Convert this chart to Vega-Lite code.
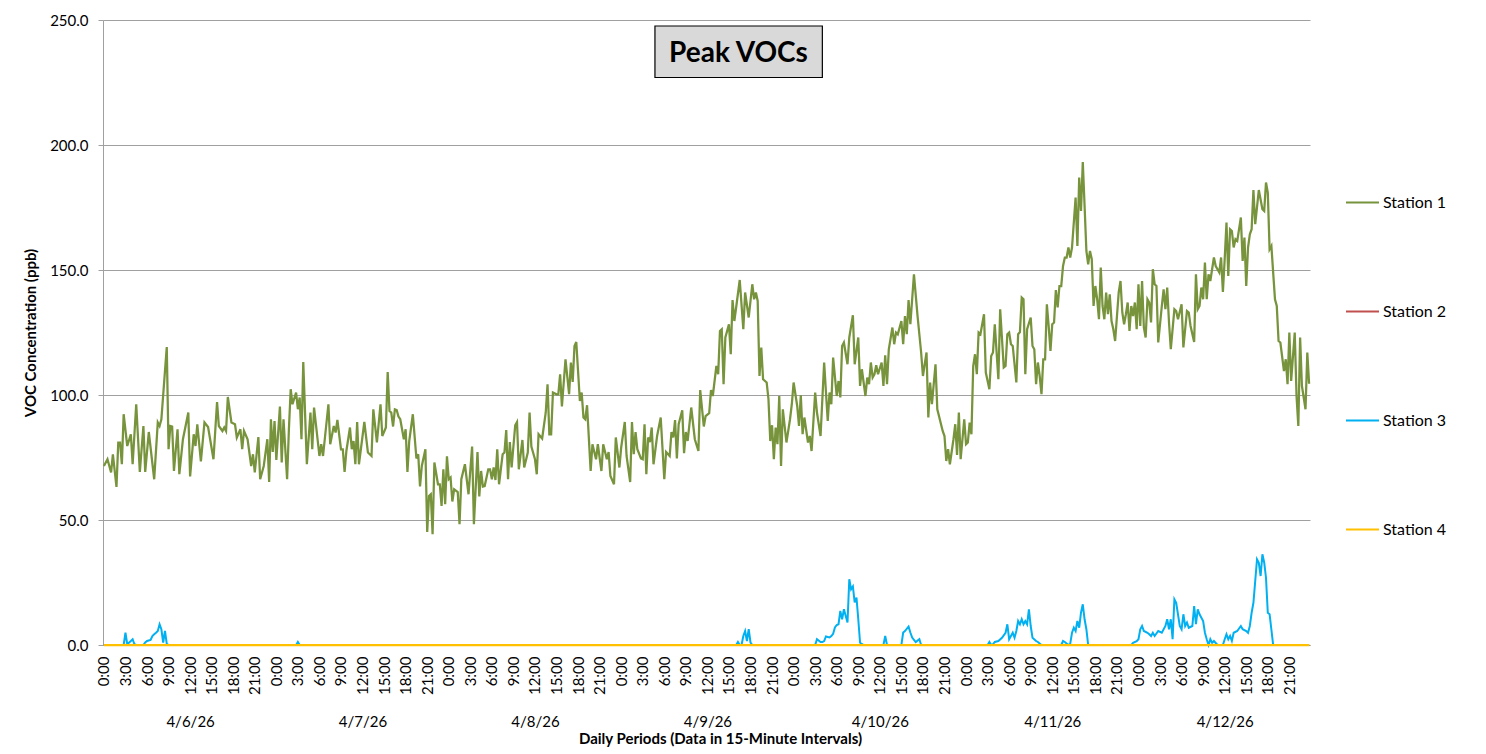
{
"$schema":"https://vega.github.io/schema/vega-lite/v6.json",
"width":1207,"height":625,
"autosize":{"type":"none"},
"padding":{"left":103,"top":20,"right":176,"bottom":109},
"background":"white",
"title":{"text":"Peak VOCs","font":"Lato","fontSize":28,"fontWeight":"bold","color":"#000000","anchor":"middle","frame":"group","baseline":"middle","offset":-69,"dx":32},
"config":{"font":"Lato","view":{"stroke":null}},
"datasets":{
"station1":[{"h":0,"ppb":71.6},{"h":0.5,"ppb":74.3},{"h":1,"ppb":69},{"h":1.25,"ppb":76.3},{"h":1.75,"ppb":63.2},{"h":2,"ppb":81},{"h":2.25,"ppb":81},{"h":2.5,"ppb":72.3},{"h":2.75,"ppb":92.3},{"h":3.25,"ppb":79.6},{"h":3.75,"ppb":84.3},{"h":4,"ppb":72.3},{"h":4.5,"ppb":96.3},{"h":5,"ppb":69.2},{"h":5.5,"ppb":87.6},{"h":5.75,"ppb":69.2},{"h":6.25,"ppb":85.2},{"h":7,"ppb":66.3},{"h":7.5,"ppb":89},{"h":7.75,"ppb":87.6},{"h":8,"ppb":90.3},{"h":8.75,"ppb":119.2},{"h":9,"ppb":78.3},{"h":9.25,"ppb":87.6},{"h":9.5,"ppb":87.4},{"h":9.75,"ppb":69.6},{"h":10.25,"ppb":86.3},{"h":10.5,"ppb":68.3},{"h":11,"ppb":82.3},{"h":11.75,"ppb":93},{"h":12,"ppb":67.4},{"h":12.5,"ppb":84.3},{"h":12.75,"ppb":79.6},{"h":13,"ppb":88.3},{"h":13.5,"ppb":73.4},{"h":14,"ppb":89},{"h":14.5,"ppb":87.2},{"h":15.25,"ppb":74.3},{"h":15.75,"ppb":97.2},{"h":16,"ppb":87.6},{"h":16.5,"ppb":85.6},{"h":16.75,"ppb":87},{"h":17,"ppb":85.6},{"h":17.25,"ppb":99.2},{"h":17.75,"ppb":89},{"h":18.25,"ppb":88.3},{"h":18.5,"ppb":83},{"h":19,"ppb":86.3},{"h":19.25,"ppb":78.3},{"h":19.5,"ppb":85.6},{"h":20,"ppb":82.3},{"h":20.5,"ppb":71.6},{"h":20.75,"ppb":76.3},{"h":21,"ppb":69},{"h":21.5,"ppb":83.2},{"h":21.75,"ppb":66.3},{"h":22.25,"ppb":71.6},{"h":22.75,"ppb":82.3},{"h":23,"ppb":65.2},{"h":23.25,"ppb":90.3},{"h":23.5,"ppb":77.2},{"h":23.75,"ppb":89.6},
{"h":24,"ppb":74},{"h":24.5,"ppb":95.4},{"h":24.75,"ppb":73},{"h":25,"ppb":90.3},{"h":25.5,"ppb":66.3},{"h":25.75,"ppb":86.3},{"h":26,"ppb":102.3},{"h":26.25,"ppb":96.3},{"h":26.75,"ppb":101},{"h":27,"ppb":94.3},{"h":27.25,"ppb":99},{"h":27.5,"ppb":82.3},{"h":27.75,"ppb":113.2},{"h":28.25,"ppb":72.3},{"h":28.75,"ppb":93},{"h":29,"ppb":78.3},{"h":29.25,"ppb":95},{"h":30,"ppb":75.6},{"h":30.25,"ppb":80.3},{"h":30.5,"ppb":75.6},{"h":31.25,"ppb":96.3},{"h":31.5,"ppb":80.3},{"h":32,"ppb":87.6},{"h":32.25,"ppb":85},{"h":32.5,"ppb":90},{"h":33,"ppb":78.3},{"h":33.25,"ppb":78.3},{"h":33.5,"ppb":69.2},{"h":33.75,"ppb":77.6},{"h":34.25,"ppb":87},{"h":34.5,"ppb":78.3},{"h":34.75,"ppb":81.6},{"h":35,"ppb":72.3},{"h":35.25,"ppb":89.2},{"h":35.5,"ppb":72.3},{"h":36.25,"ppb":89.2},{"h":36.75,"ppb":77},{"h":37.25,"ppb":75.6},{"h":37.5,"ppb":94.3},{"h":38,"ppb":81},{"h":38.5,"ppb":96.3},{"h":38.75,"ppb":83.6},{"h":39.25,"ppb":87},{"h":39.5,"ppb":109.2},{"h":39.75,"ppb":93.6},{"h":40,"ppb":93},{"h":40.25,"ppb":87.4},{"h":40.5,"ppb":94.3},{"h":40.75,"ppb":94},{"h":41,"ppb":91.4},{"h":41.25,"ppb":90.3},{"h":41.75,"ppb":82.3},{"h":42,"ppb":86.3},{"h":42.25,"ppb":69.2},{"h":42.5,"ppb":81.6},{"h":43,"ppb":92.3},{"h":43.5,"ppb":74.6},{"h":43.75,"ppb":76.3},{"h":44,"ppb":63.4},{"h":44.25,"ppb":71.6},{"h":44.75,"ppb":78.3},{"h":45,"ppb":45.2},{"h":45.25,"ppb":59.6},{"h":45.5,"ppb":60.3},{"h":45.75,"ppb":44.3},{"h":46,"ppb":73},{"h":46.5,"ppb":64.3},{"h":46.75,"ppb":64.3},{"h":47,"ppb":55.6},{"h":47.25,"ppb":70.3},{"h":47.5,"ppb":56.3},{"h":47.75,"ppb":75.5},
{"h":48,"ppb":66.3},{"h":48.25,"ppb":67},{"h":48.5,"ppb":57.4},{"h":48.75,"ppb":62.3},{"h":49.25,"ppb":61.2},{"h":49.5,"ppb":48.3},{"h":49.75,"ppb":66.3},{"h":50.25,"ppb":72.3},{"h":50.75,"ppb":60.3},{"h":51.25,"ppb":79.4},{"h":51.5,"ppb":48.3},{"h":52,"ppb":77.2},{"h":52.25,"ppb":59.4},{"h":52.5,"ppb":69.6},{"h":52.75,"ppb":63.4},{"h":53,"ppb":63.6},{"h":53.5,"ppb":70.3},{"h":53.75,"ppb":70.3},{"h":54,"ppb":66.3},{"h":54.25,"ppb":71},{"h":54.5,"ppb":66},{"h":54.75,"ppb":78.3},{"h":55,"ppb":64.3},{"h":55.5,"ppb":76.3},{"h":55.75,"ppb":77},{"h":56,"ppb":86},{"h":56.25,"ppb":66.3},{"h":56.5,"ppb":81.2},{"h":56.75,"ppb":71},{"h":57.25,"ppb":87.9},{"h":57.5,"ppb":89.2},{"h":57.75,"ppb":70.3},{"h":58.25,"ppb":82},{"h":58.5,"ppb":71},{"h":59,"ppb":77},{"h":59.25,"ppb":93},{"h":59.5,"ppb":79.4},{"h":60,"ppb":74.3},{"h":60.25,"ppb":68.3},{"h":60.5,"ppb":84.3},{"h":61,"ppb":82.6},{"h":61.5,"ppb":93},{"h":61.75,"ppb":104.3},{"h":62,"ppb":84.3},{"h":62.25,"ppb":84.3},{"h":62.5,"ppb":101},{"h":63,"ppb":100.3},{"h":63.25,"ppb":100.3},{"h":63.5,"ppb":108.3},{"h":63.75,"ppb":95.4},{"h":64.25,"ppb":114.3},{"h":64.75,"ppb":100.3},{"h":65,"ppb":113},{"h":65.25,"ppb":105.2},{"h":65.5,"ppb":119.6},{"h":65.75,"ppb":121.2},{"h":66.25,"ppb":97.6},{"h":66.5,"ppb":101},{"h":66.75,"ppb":91},{"h":67,"ppb":90.3},{"h":67.25,"ppb":95.9},{"h":67.75,"ppb":69.6},{"h":68,"ppb":80.3},{"h":68.5,"ppb":74.3},{"h":68.75,"ppb":80.3},{"h":69.25,"ppb":69.6},{"h":69.5,"ppb":80.3},{"h":70,"ppb":74.3},{"h":70.25,"ppb":77.2},{"h":70.5,"ppb":67.6},{"h":71,"ppb":64.3},{"h":71.25,"ppb":83},{"h":71.75,"ppb":71},
{"h":72,"ppb":79},{"h":72.5,"ppb":89.2},{"h":72.75,"ppb":75.6},{"h":73.25,"ppb":65.2},{"h":73.5,"ppb":89.2},{"h":73.75,"ppb":76.3},{"h":74,"ppb":85.2},{"h":74.25,"ppb":78.3},{"h":74.75,"ppb":74.6},{"h":75,"ppb":74.3},{"h":75.25,"ppb":88.3},{"h":75.5,"ppb":68.3},{"h":75.75,"ppb":83},{"h":76,"ppb":81.2},{"h":76.25,"ppb":87},{"h":76.5,"ppb":72.3},{"h":77,"ppb":83.6},{"h":77.5,"ppb":91},{"h":78,"ppb":66.3},{"h":78.25,"ppb":77.2},{"h":78.75,"ppb":75.6},{"h":79,"ppb":85.2},{"h":79.25,"ppb":83},{"h":79.5,"ppb":90},{"h":79.75,"ppb":74.6},{"h":80,"ppb":88.3},{"h":80.5,"ppb":93.9},{"h":80.75,"ppb":76.7},{"h":81,"ppb":85.2},{"h":81.25,"ppb":81.6},{"h":81.75,"ppb":95},{"h":82.25,"ppb":82.3},{"h":82.75,"ppb":77.6},{"h":83,"ppb":102},{"h":83.5,"ppb":87.4},{"h":83.75,"ppb":91.6},{"h":84.25,"ppb":92.7},{"h":84.5,"ppb":102},{"h":84.75,"ppb":99.6},{"h":85.25,"ppb":111.6},{"h":85.5,"ppb":108.3},{"h":85.75,"ppb":125.6},{"h":86,"ppb":126.3},{"h":86.25,"ppb":104.3},{"h":86.5,"ppb":123},{"h":87,"ppb":128.3},{"h":87.25,"ppb":116.3},{"h":87.5,"ppb":138},{"h":87.75,"ppb":129.6},{"h":88,"ppb":135},{"h":88.5,"ppb":146},{"h":89,"ppb":126.3},{"h":89.25,"ppb":141},{"h":89.75,"ppb":131},{"h":90.25,"ppb":144.3},{"h":90.5,"ppb":138.3},{"h":90.75,"ppb":141},{"h":91,"ppb":137.6},{"h":91.25,"ppb":107.6},{"h":91.5,"ppb":119},{"h":91.75,"ppb":106.3},{"h":92.25,"ppb":105},{"h":92.5,"ppb":98.3},{"h":92.75,"ppb":81.6},{"h":93,"ppb":87.9},{"h":93.25,"ppb":74.3},{"h":93.5,"ppb":87},{"h":93.75,"ppb":80.3},{"h":94,"ppb":99.6},{"h":94.25,"ppb":71.6},{"h":94.5,"ppb":94.3},{"h":95,"ppb":81},{"h":95.5,"ppb":90.3},{"h":95.75,"ppb":96.3},
{"h":96,"ppb":105},{"h":96.5,"ppb":95.6},{"h":96.75,"ppb":87.6},{"h":97,"ppb":99.9},{"h":97.25,"ppb":84.3},{"h":97.5,"ppb":91},{"h":98,"ppb":81},{"h":98.25,"ppb":83.6},{"h":98.5,"ppb":77.6},{"h":99,"ppb":101},{"h":99.25,"ppb":93},{"h":99.75,"ppb":83.6},{"h":100.25,"ppb":113},{"h":100.75,"ppb":89.6},{"h":101,"ppb":101},{"h":101.25,"ppb":96.3},{"h":101.5,"ppb":115},{"h":102,"ppb":99.6},{"h":102.25,"ppb":105.6},{"h":102.5,"ppb":99},{"h":102.75,"ppb":119.6},{"h":103,"ppb":121},{"h":103.5,"ppb":112.3},{"h":103.75,"ppb":123},{"h":104.25,"ppb":131.9},{"h":104.5,"ppb":112.3},{"h":105,"ppb":123},{"h":105.25,"ppb":103.6},{"h":105.5,"ppb":110.3},{"h":106,"ppb":99.6},{"h":106.25,"ppb":107},{"h":106.5,"ppb":104.3},{"h":106.75,"ppb":113},{"h":107,"ppb":107},{"h":107.25,"ppb":108.3},{"h":107.5,"ppb":111.9},{"h":107.75,"ppb":108.3},{"h":108.25,"ppb":113},{"h":108.5,"ppb":103.6},{"h":108.75,"ppb":115.9},{"h":109,"ppb":104.3},{"h":109.25,"ppb":118.3},{"h":109.75,"ppb":127},{"h":110,"ppb":120.3},{"h":110.25,"ppb":125},{"h":110.5,"ppb":124.3},{"h":111,"ppb":129.6},{"h":111.25,"ppb":120.3},{"h":111.5,"ppb":131.6},{"h":111.75,"ppb":124.3},{"h":112,"ppb":138},{"h":112.25,"ppb":128.3},{"h":112.75,"ppb":148.3},{"h":113.25,"ppb":131.6},{"h":113.75,"ppb":117},{"h":114,"ppb":107.6},{"h":114.5,"ppb":117},{"h":114.75,"ppb":91},{"h":115,"ppb":105},{"h":115.25,"ppb":96.3},{"h":115.75,"ppb":112.3},{"h":116,"ppb":94.3},{"h":116.75,"ppb":85.6},{"h":117,"ppb":83.6},{"h":117.25,"ppb":73.6},{"h":117.5,"ppb":78.3},{"h":117.75,"ppb":72.3},{"h":118.25,"ppb":82.3},{"h":118.5,"ppb":88.3},{"h":118.75,"ppb":76},{"h":119,"ppb":93},{"h":119.25,"ppb":74.3},{"h":119.75,"ppb":90.3},
{"h":120,"ppb":80.3},{"h":120.25,"ppb":81},{"h":120.5,"ppb":89},{"h":120.75,"ppb":84.3},{"h":121,"ppb":111.6},{"h":121.25,"ppb":116.3},{"h":121.5,"ppb":108.3},{"h":121.75,"ppb":125},{"h":122,"ppb":124.3},{"h":122.5,"ppb":132.3},{"h":122.75,"ppb":109},{"h":123.25,"ppb":102.3},{"h":123.5,"ppb":115.6},{"h":123.75,"ppb":117},{"h":124,"ppb":128.3},{"h":124.5,"ppb":106.3},{"h":124.75,"ppb":134.3},{"h":125.25,"ppb":111},{"h":125.5,"ppb":111.6},{"h":125.75,"ppb":124.3},{"h":126,"ppb":125},{"h":126.25,"ppb":120.3},{"h":126.5,"ppb":119.6},{"h":127,"ppb":105},{"h":127.25,"ppb":124.3},{"h":127.5,"ppb":125.2},{"h":127.75,"ppb":139},{"h":128,"ppb":138.3},{"h":128.25,"ppb":108.3},{"h":128.5,"ppb":126.3},{"h":129,"ppb":131},{"h":129.25,"ppb":119.6},{"h":129.5,"ppb":118.3},{"h":129.75,"ppb":104.3},{"h":130,"ppb":113},{"h":130.25,"ppb":107.6},{"h":130.5,"ppb":100.3},{"h":130.75,"ppb":114.3},{"h":131,"ppb":114.3},{"h":131.25,"ppb":136.3},{"h":131.5,"ppb":127.6},{"h":131.75,"ppb":117.6},{"h":132,"ppb":128.3},{"h":132.25,"ppb":129},{"h":132.5,"ppb":142},{"h":132.75,"ppb":135},{"h":133,"ppb":143.6},{"h":133.25,"ppb":143.6},{"h":133.5,"ppb":151.6},{"h":133.75,"ppb":155},{"h":134,"ppb":155},{"h":134.25,"ppb":159},{"h":134.5,"ppb":155},{"h":134.75,"ppb":159},{"h":135.25,"ppb":179},{"h":135.5,"ppb":159.6},{"h":135.75,"ppb":187},{"h":136,"ppb":173.6},{"h":136.25,"ppb":193.2},{"h":136.5,"ppb":175.6},{"h":136.75,"ppb":157.6},{"h":137,"ppb":152.3},{"h":137.25,"ppb":157.6},{"h":137.5,"ppb":154.3},{"h":137.75,"ppb":135.6},{"h":138,"ppb":143.6},{"h":138.25,"ppb":138.3},{"h":138.5,"ppb":130.3},{"h":138.75,"ppb":151},{"h":139,"ppb":135.6},{"h":139.25,"ppb":130.3},{"h":139.5,"ppb":141},{"h":139.75,"ppb":132.3},{"h":140,"ppb":140.3},{"h":140.25,"ppb":129.6},{"h":140.5,"ppb":126.3},{"h":140.75,"ppb":121.6},{"h":141.25,"ppb":141},{"h":141.5,"ppb":145.6},{"h":141.75,"ppb":133},{"h":142,"ppb":128.3},{"h":142.25,"ppb":132.3},{"h":142.5,"ppb":137},{"h":142.75,"ppb":125.6},{"h":143,"ppb":135.6},
{"h":143.25,"ppb":131.6},{"h":143.5,"ppb":137},{"h":143.75,"ppb":126.3},{"h":144,"ppb":144.3},{"h":144.25,"ppb":127.6},{"h":144.5,"ppb":145.6},{"h":144.75,"ppb":127},{"h":145,"ppb":123},{"h":145.25,"ppb":138.3},{"h":145.5,"ppb":137},{"h":145.75,"ppb":129},{"h":146,"ppb":150.3},{"h":146.25,"ppb":144.3},{"h":146.5,"ppb":143.6},{"h":146.75,"ppb":121},{"h":147.25,"ppb":135.6},{"h":147.5,"ppb":142.3},{"h":147.75,"ppb":134.3},{"h":148,"ppb":143},{"h":148.25,"ppb":129},{"h":148.5,"ppb":118.3},{"h":149,"ppb":134.3},{"h":149.25,"ppb":133.6},{"h":149.5,"ppb":130.3},{"h":150,"ppb":136.3},{"h":150.25,"ppb":119},{"h":150.75,"ppb":133.6},{"h":151,"ppb":133},{"h":151.25,"ppb":127.6},{"h":151.75,"ppb":121.2},{"h":152,"ppb":148.3},{"h":152.25,"ppb":134.3},{"h":152.5,"ppb":135.6},{"h":152.75,"ppb":143},{"h":153,"ppb":138.3},{"h":153.25,"ppb":153},{"h":153.5,"ppb":138.3},{"h":153.75,"ppb":148.3},{"h":154,"ppb":145.6},{"h":154.5,"ppb":155},{"h":154.75,"ppb":151.6},{"h":155.25,"ppb":149},{"h":155.5,"ppb":155},{"h":155.75,"ppb":141.2},{"h":156,"ppb":154.3},{"h":156.25,"ppb":169},{"h":156.5,"ppb":147.6},{"h":156.75,"ppb":166.3},{"h":157,"ppb":165.6},{"h":157.25,"ppb":159},{"h":157.5,"ppb":162.3},{"h":157.75,"ppb":161.6},{"h":158.25,"ppb":171},{"h":158.5,"ppb":153.6},{"h":158.75,"ppb":163},{"h":159,"ppb":143.6},{"h":159.25,"ppb":159},{"h":159.5,"ppb":164.3},{"h":159.75,"ppb":166.3},{"h":160,"ppb":182},{"h":160.25,"ppb":168.3},{"h":160.75,"ppb":182},{"h":161.25,"ppb":174.3},{"h":161.5,"ppb":173.6},{"h":161.75,"ppb":185},{"h":162,"ppb":181},{"h":162.25,"ppb":158.3},{"h":162.5,"ppb":159.6},{"h":163,"ppb":138.3},{"h":163.25,"ppb":135.6},{"h":163.5,"ppb":121.6},{"h":163.75,"ppb":121},{"h":164.25,"ppb":109.6},{"h":164.5,"ppb":114.3},{"h":164.75,"ppb":104.3},{"h":165,"ppb":125},{"h":165.25,"ppb":105.6},{"h":165.75,"ppb":125},{"h":166,"ppb":99.6},{"h":166.25,"ppb":87.6},{"h":166.5,"ppb":123},{"h":166.75,"ppb":103.6},{"h":167,"ppb":99},{"h":167.25,"ppb":94.3},{"h":167.5,"ppb":117},{"h":167.75,"ppb":104.5}],
"station3":[{"h":0,"ppb":0},{"h":2.75,"ppb":0},{"h":3,"ppb":4.9},{"h":3.25,"ppb":0.3},{"h":3.75,"ppb":1.6},{"h":4,"ppb":2.3},{"h":4.25,"ppb":0.3},{"h":4.5,"ppb":0},{"h":5.5,"ppb":0},{"h":5.75,"ppb":1},{"h":6,"ppb":1.6},{"h":6.5,"ppb":2},{"h":6.75,"ppb":3.6},{"h":7,"ppb":4.3},{"h":7.25,"ppb":4.9},{"h":7.5,"ppb":5.6},{"h":7.75,"ppb":8.3},{"h":8,"ppb":6.3},{"h":8.25,"ppb":1},{"h":8.5,"ppb":5.6},{"h":8.75,"ppb":0.5},{"h":9,"ppb":0},{"h":26.75,"ppb":0},{"h":27,"ppb":1.2},{"h":27.25,"ppb":0},{"h":88,"ppb":0},{"h":88.25,"ppb":1.2},{"h":88.5,"ppb":0},{"h":88.75,"ppb":0},{"h":89,"ppb":3.6},{"h":89.25,"ppb":5.6},{"h":89.5,"ppb":1.6},{"h":89.75,"ppb":6.3},{"h":90,"ppb":1},{"h":90.25,"ppb":0},{"h":99,"ppb":0},{"h":99.25,"ppb":2.3},{"h":99.75,"ppb":1.2},{"h":100,"ppb":1.2},{"h":100.25,"ppb":1.6},{"h":100.5,"ppb":3.4},{"h":101,"ppb":3},{"h":101.25,"ppb":3.6},{"h":101.5,"ppb":4.5},{"h":101.75,"ppb":7},{"h":102,"ppb":8},{"h":102.25,"ppb":8.3},{"h":102.5,"ppb":13.6},{"h":102.75,"ppb":10.3},{"h":103,"ppb":14.3},{"h":103.5,"ppb":9},{"h":103.75,"ppb":26.3},{"h":104,"ppb":22.3},{"h":104.25,"ppb":23.4},{"h":104.5,"ppb":17},{"h":104.75,"ppb":19},{"h":105,"ppb":10.3},{"h":105.25,"ppb":0.9},{"h":105.75,"ppb":0},{"h":108.5,"ppb":0},{"h":108.75,"ppb":3.6},{"h":109,"ppb":0},{"h":111,"ppb":0},{"h":111.25,"ppb":5},{"h":111.5,"ppb":5.6},{"h":112,"ppb":7.4},{"h":112.25,"ppb":5},{"h":112.5,"ppb":3},{"h":113,"ppb":1.2},{"h":113.5,"ppb":2.3},{"h":113.75,"ppb":0},{"h":123,"ppb":0},{"h":123.25,"ppb":1.2},{"h":123.5,"ppb":0},{"h":123.75,"ppb":0.3},{"h":124,"ppb":1.2},{"h":124.5,"ppb":1.6},{"h":125,"ppb":2.9},{"h":125.5,"ppb":4.9},{"h":125.75,"ppb":8.3},{"h":126,"ppb":2.3},{"h":126.5,"ppb":4.9},{"h":126.75,"ppb":2.9},{"h":127,"ppb":5.6},{"h":127.25,"ppb":9.6},{"h":127.5,"ppb":8.3},{"h":127.75,"ppb":10.3},{"h":128,"ppb":8.3},{"h":128.25,"ppb":9.6},{"h":128.5,"ppb":8.3},{"h":128.75,"ppb":14.3},{"h":129,"ppb":7.6},{"h":129.25,"ppb":2.9},{"h":129.75,"ppb":1.6},{"h":130,"ppb":1.2},{"h":130.5,"ppb":0},{"h":133.25,"ppb":0},{"h":133.5,"ppb":1.6},{"h":133.75,"ppb":1.2},{"h":134.25,"ppb":0},{"h":134.5,"ppb":0.5},{"h":134.75,"ppb":4.9},{"h":135,"ppb":6.9},{"h":135.25,"ppb":5.6},{"h":135.5,"ppb":9.6},{"h":135.75,"ppb":6.9},{"h":136,"ppb":12.9},{"h":136.25,"ppb":16.3},{"h":136.5,"ppb":10.3},{"h":136.75,"ppb":6.3},{"h":137,"ppb":0},{"h":143,"ppb":0},{"h":143.25,"ppb":0.9},{"h":143.75,"ppb":1.5},{"h":144,"ppb":2.3},{"h":144.25,"ppb":6.3},{"h":144.5,"ppb":7.6},{"h":144.75,"ppb":5.6},{"h":145.25,"ppb":4.9},{"h":145.5,"ppb":4.3},{"h":145.75,"ppb":3.6},{"h":146,"ppb":4.9},{"h":146.25,"ppb":3.6},{"h":146.75,"ppb":5.6},{"h":147.25,"ppb":4.9},{"h":147.75,"ppb":7.6},{"h":148,"ppb":10.3},{"h":148.25,"ppb":6.3},{"h":148.5,"ppb":10.3},{"h":148.75,"ppb":2.3},{"h":149,"ppb":18.3},{"h":149.25,"ppb":16.9},{"h":149.75,"ppb":7.6},{"h":150,"ppb":6.3},{"h":150.25,"ppb":12.3},{"h":150.5,"ppb":7.6},{"h":150.75,"ppb":9},{"h":151,"ppb":6.9},{"h":151.5,"ppb":7.6},{"h":151.75,"ppb":15.6},{"h":152,"ppb":8.3},{"h":152.25,"ppb":14.3},{"h":152.5,"ppb":12.3},{"h":153,"ppb":9.6},{"h":153.25,"ppb":4.9},{"h":153.5,"ppb":2.3},{"h":153.75,"ppb":0},{"h":154,"ppb":2.3},{"h":154.25,"ppb":0.9},{"h":154.5,"ppb":1.6},{"h":155,"ppb":0},{"h":155.75,"ppb":0},{"h":156,"ppb":2.3},{"h":156.25,"ppb":4.3},{"h":156.5,"ppb":2.3},{"h":156.75,"ppb":3.6},{"h":157,"ppb":1.6},{"h":157.25,"ppb":4.9},{"h":157.75,"ppb":5.6},{"h":158.25,"ppb":7.6},{"h":158.5,"ppb":6.3},{"h":159,"ppb":5.6},{"h":159.25,"ppb":4.9},{"h":159.5,"ppb":7.6},{"h":159.75,"ppb":12.9},{"h":160,"ppb":16.9},{"h":160.5,"ppb":34.3},{"h":160.75,"ppb":32.9},{"h":161,"ppb":27.6},{"h":161.25,"ppb":36.3},{"h":161.5,"ppb":33},{"h":161.75,"ppb":26.9},{"h":162,"ppb":12.9},{"h":162.25,"ppb":12.3},{"h":162.75,"ppb":0},{"h":167.75,"ppb":0}],
"flat":[{"h":0,"ppb":0},{"h":167.75,"ppb":0}]
},
"layer":[
{"data":{"name":"station1"},"mark":{"type":"line","strokeWidth":2.25},
 "encoding":{
  "x":{"field":"h","type":"quantitative","scale":{"domain":[-0.125,167.875],"nice":false,"zero":false},
   "axis":{"orient":"bottom","values":[0,3,6,9,12,15,18,21,24,27,30,33,36,39,42,45,48,51,54,57,60,63,66,69,72,75,78,81,84,87,90,93,96,99,102,105,108,111,114,117,120,123,126,129,132,135,138,141,144,147,150,153,156,159,162,165],
    "labelExpr":"(datum.value % 24) + ':00'","labelAngle":270,"labelFontSize":15,"labelFont":"Lato","labelColor":"#000000","labelPadding":11,"labelFlush":false,"labelOverlap":false,"ticks":false,"grid":false,"domainColor":"#a0a0a0","title":null}},
  "y":{"field":"ppb","type":"quantitative","scale":{"domain":[0,250],"nice":false},
   "axis":{"values":[0,50,100,150,200,250],"format":".1f","labelFontSize":15,"labelFont":"Lato","labelColor":"#000000","labelPadding":10,"tickSize":5,"tickColor":"#a0a0a0","domainColor":"#a0a0a0","gridColor":"#a0a0a0","grid":true,
    "title":"VOC Concentration (ppb)","titleFont":"Lato","titleFontSize":15,"titleFontWeight":"bold","titleColor":"#000000","titlePadding":11}},
  "color":{"datum":"Station 1","type":"nominal","scale":{"domain":["Station 1","Station 2","Station 3","Station 4"],"range":["#77933C","#C0504D","#00B0F0","#FFC000"]},
   "legend":{"orient":"none","legendX":1242,"legendY":165,"title":null,"symbolType":"stroke","symbolSize":1089,"symbolStrokeWidth":2,"labelFontSize":16,"labelFont":"Lato","labelColor":"#000000","labelOffset":3,"rowPadding":83}}}},
{"data":{"name":"flat"},"mark":{"type":"line","strokeWidth":2},
 "encoding":{
  "x":{"field":"h","type":"quantitative","axis":{"orient":"bottom","values":[12,36,60,84,108,132,156],"labelExpr":"'4/' + (6 + floor(datum.value / 24)) + '/26'","labelAngle":0,"labelFontSize":15,"labelFont":"Lato","labelColor":"#000000","labelPadding":69,"labelBaseline":"top","labelFlush":false,"ticks":false,"domain":false,"grid":false,
    "title":"Daily Periods (Data in 15-Minute Intervals)","titleFont":"Lato","titleFontSize":15,"titleFontWeight":"bold","titleColor":"#000000","titlePadding":2,"titleX":617}},
  "y":{"field":"ppb","type":"quantitative"},
  "color":{"datum":"Station 2","type":"nominal"}}},
{"data":{"name":"station3"},"mark":{"type":"line","strokeWidth":2},
 "encoding":{
  "x":{"field":"h","type":"quantitative","axis":null},
  "y":{"field":"ppb","type":"quantitative"},
  "color":{"datum":"Station 3","type":"nominal"}}},
{"data":{"name":"flat"},"mark":{"type":"line","strokeWidth":2.25},
 "encoding":{
  "x":{"field":"h","type":"quantitative","axis":null},
  "y":{"field":"ppb","type":"quantitative"},
  "color":{"datum":"Station 4","type":"nominal"}}},
{"data":{"values":[{"label":"Peak VOCs"}]},"mark":{"type":"rect","fill":"#D9D9D9","stroke":"#000000","strokeWidth":1.2},
 "encoding":{
  "x":{"datum":76.7,"type":"quantitative","axis":null},
  "x2":{"datum":100.0},
  "y":{"datum":247.6,"type":"quantitative"},
  "y2":{"datum":227.0}}}
],
"resolve":{"axis":{"x":"independent"}}
}
